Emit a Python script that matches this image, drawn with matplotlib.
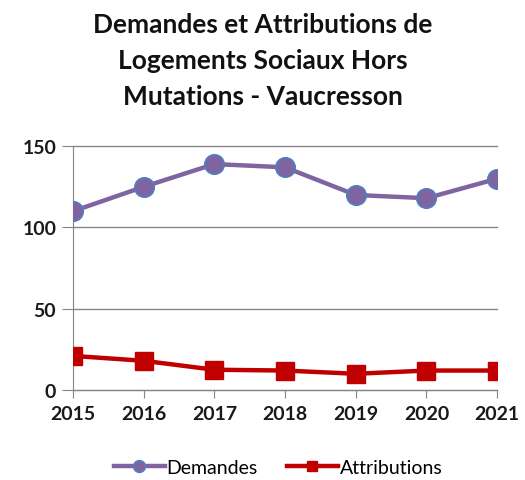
import matplotlib
matplotlib.use("Agg")
import matplotlib.pyplot as plt

years = ["2015", "2016", "2017", "2018", "2019", "2020", "2021"]
demandes = [110, 125, 139, 137, 120, 118, 130]
attributions = [21, 18, 12.5, 12, 10, 12, 12]

plt.rcParams['font.family'] = ['Lato', 'DejaVu Sans']

fig = plt.figure(figsize=(5.25, 4.81), dpi=100)
ax = fig.add_axes([0.139, 0.187, 0.808, 0.507])

x = list(range(len(years)))
ax.plot(x, demandes, color="#8064A2", lw=3.2, marker="o", ms=14,
        mfc="#8064A2", mec="#4F81BD", mew=1.2, label="Demandes", zorder=3)
ax.plot(x, attributions, color="#C00000", lw=3.2, marker="s", ms=13,
        mfc="#C00000", mec="#C00000", label="Attributions", zorder=3)

ax.set_xlim(0, len(years) - 1)
ax.set_ylim(0, 150)
ax.set_yticks([0, 50, 100, 150])
ax.set_xticks(x)
ax.set_xticklabels(years)
for s in ["top", "right"]:
    ax.spines[s].set_visible(False)
ax.spines["left"].set_color("#868686")
ax.spines["bottom"].set_color("#868686")
ax.grid(axis="y", color="#868686", lw=1)
ax.set_axisbelow(True)
ax.tick_params(axis="y", length=8, color="#868686", labelsize=14, pad=4)
ax.tick_params(axis="x", length=6, color="#868686", labelsize=14, pad=5)
for lab in ax.get_xticklabels() + ax.get_yticklabels():
    lab.set_fontweight("bold")
    lab.set_color("#1a1a1a")
for line in ax.get_ygridlines():
    line.set_clip_on(False)

fig.text(0.5, 0.972, "Demandes et Attributions de\nLogements Sociaux Hors\nMutations - Vaucresson",
         ha="center", va="top", fontsize=19, fontweight="bold", linespacing=1.6,
         color="#111111")

fig.legend(loc="center", bbox_to_anchor=(0.53, 0.027), ncol=2, frameon=False,
           fontsize=14, handlelength=2.6, handletextpad=0.1, columnspacing=1.5,
           markerscale=0.6)

fig.savefig("out.png", dpi=100)
